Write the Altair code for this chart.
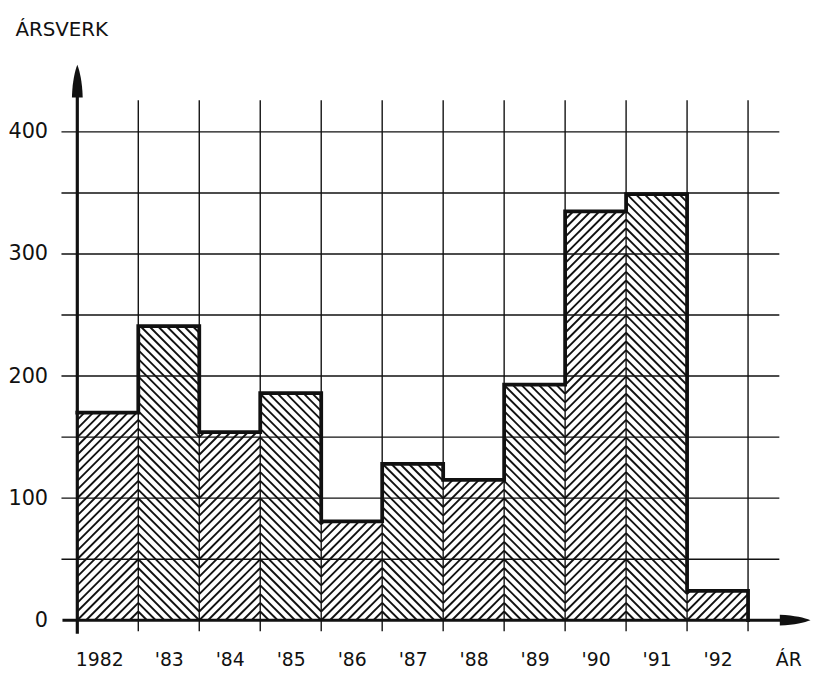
import json
import math
import altair as alt
import pandas as pd

# ---- data ----
years = [1982, 1983, 1984, 1985, 1986, 1987, 1988, 1989, 1990, 1991, 1992]
values = [170, 241, 154, 186, 81, 128, 115, 193, 335, 349, 24]
tick_labels = ["1982", "'83", "'84", "'85", "'86", "'87", "'88", "'89", "'90", "'91", "'92"]
y_ticks = [0, 100, 200, 300, 400]
grid_levels = [50, 100, 150, 200, 250, 300, 350, 400]

# ---- geometry / style ----
W, H = 739, 561
X0, X1 = 1982, 1994
Y0, Y1 = 0, 455
PX_YEAR = W / (X1 - X0)
PX_UNIT = H / (Y1 - Y0)
HATCH_PER_BAR = 7
INK = "#111111"


def to_x(u):
    return X0 + u / PX_YEAR


def to_y(v):
    return v / PX_UNIT


# hatch segments clipped to every bar (alternating / and \ so that they meet in chevrons)
s = PX_YEAR / HATCH_PER_BAR
hatch = []
for i, (yr, val) in enumerate(zip(years, values)):
    L = (yr - X0) * PX_YEAR
    R = L + PX_YEAR
    h = val * PX_UNIT
    if i % 2 == 0:  # "/" lines: v = u - m*s
        for m in range(math.floor((L - h) / s) - 1, math.ceil(R / s) + 2):
            u0 = m * s
            ua, ub = max(L, u0), min(R, u0 + h)
            if ub - ua > 0.3:
                hatch.append({"x": to_x(ua), "y": to_y(ua - u0), "x2": to_x(ub), "y2": to_y(ub - u0)})
    else:  # "\" lines: v = m*s - u
        for m in range(math.floor(L / s) - 1, math.ceil((R + h) / s) + 2):
            u0 = m * s
            ua, ub = max(L, u0 - h), min(R, u0)
            if ub - ua > 0.3:
                hatch.append({"x": to_x(ua), "y": to_y(u0 - ua), "x2": to_x(ub), "y2": to_y(u0 - ub)})
hatch_df = pd.DataFrame(hatch)

# outline of the histogram (step line)
step_x = years + [years[-1] + 1, years[-1] + 1]
step_y = values + [values[-1], 0]
step_df = pd.DataFrame({"x": step_x, "y": step_y})

# grid
x_left = to_x(-16)
x_right = to_x(709)
hgrid_df = pd.DataFrame({"x": [x_left] * len(grid_levels), "x2": [x_right] * len(grid_levels),
                         "y": grid_levels, "y2": grid_levels})
vlines = [y + 1 for y in years]
vgrid_df = pd.DataFrame({"x": vlines, "x2": vlines, "y": [-9] * len(vlines), "y2": [426] * len(vlines)})

# axes lines
axes_df = pd.DataFrame({
    "x": [X0, to_x(-15)], "x2": [X0, to_x(712)],
    "y": [-11, 0], "y2": [to_y(530), 0],
})
arrow_up = pd.DataFrame({"x": [X0], "y": [to_y(544.5)]})
arrow_right = pd.DataFrame({"x": [to_x(725)], "y": [0]})

# label anchor positions (first label sits left of its bin centre, as in the original)
label_pos = [years[0] + 0.36] + [y + 0.5 for y in years[1:]]

# shared encodings
label_expr = "%s[floor(datum.value - 1982)]" % json.dumps(tick_labels)
x_axis = alt.Axis(
    values=label_pos, labelExpr=label_expr, ticks=False, domain=False, grid=False,
    labelFont="DejaVu Sans", labelFontSize=19, labelColor=INK, labelPadding=31,
    labelBaseline="top", labelFlush=False, labelOverlap=False,
    title="ÁR", titleFont="DejaVu Sans", titleFontSize=19,
    titleFontWeight="normal", titleColor=INK, titleX=718, titleY=31, titleAlign="center",
    titleBaseline="top",
)
y_axis = alt.Axis(
    values=y_ticks, ticks=False, domain=False, grid=False,
    labelFont="DejaVu Sans", labelFontSize=21, labelColor=INK, labelPadding=30,
    title="ÁRSVERK", titleFont="DejaVu Sans", titleFontSize=20, titleFontWeight="normal",
    titleColor=INK, titleAngle=0, titleAlign="left", titleBaseline="middle",
    titleX=-63, titleY=-36,
)
xs = alt.Scale(domain=[X0, X1], nice=False, zero=False)
ys = alt.Scale(domain=[Y0, Y1], nice=False, zero=False)
X = alt.X("x:Q", scale=xs, axis=x_axis)
Y = alt.Y("y:Q", scale=ys, axis=y_axis)

hatch_layer = alt.Chart(hatch_df).mark_rule(color=INK, strokeWidth=1.9).encode(
    x=X, y=Y, x2="x2:Q", y2="y2:Q")
hgrid_layer = alt.Chart(hgrid_df).mark_rule(color=INK, strokeWidth=1.4).encode(
    x=X, y=Y, x2="x2:Q", y2="y2:Q")
vgrid_layer = alt.Chart(vgrid_df).mark_rule(color=INK, strokeWidth=1.4).encode(
    x=X, y=Y, x2="x2:Q", y2="y2:Q")
step_layer = alt.Chart(step_df).mark_line(
    color=INK, strokeWidth=3.8, interpolate="step-after", strokeJoin="miter", strokeCap="square"
).encode(x=X, y=Y, order=alt.Order("idx:Q")).transform_window(idx="row_number()")
axes_layer = alt.Chart(axes_df).mark_rule(color=INK, strokeWidth=3.2).encode(
    x=X, y=Y, x2="x2:Q", y2="y2:Q")
up_layer = alt.Chart(arrow_up).mark_point(
    shape="M0,-1C0.15,-0.6 0.3,0 0.33,1L-0.33,1C-0.3,0 -0.15,-0.6 0,-1Z",
    size=33 * 33, filled=True, color=INK, opacity=1, strokeWidth=0
).encode(x=X, y=Y)
right_layer = alt.Chart(arrow_right).mark_point(
    shape="M1,0C0.6,-0.15 0,-0.3 -1,-0.35L-1,0.35C0,0.3 0.6,0.15 1,0Z",
    size=31 * 31, filled=True, color=INK, opacity=1, strokeWidth=0
).encode(x=X, y=Y)

chart = alt.layer(
    hatch_layer, hgrid_layer, vgrid_layer, step_layer, axes_layer, up_layer, right_layer
).properties(
    width=W, height=H,
    autosize=alt.AutoSizeParams(type="none"),
    padding={"left": 70, "top": 54, "right": 3, "bottom": 53},
    background="white",
).configure_view(stroke=None)

chart.save("out.html", embed_options={"renderer": "svg", "actions": False})
